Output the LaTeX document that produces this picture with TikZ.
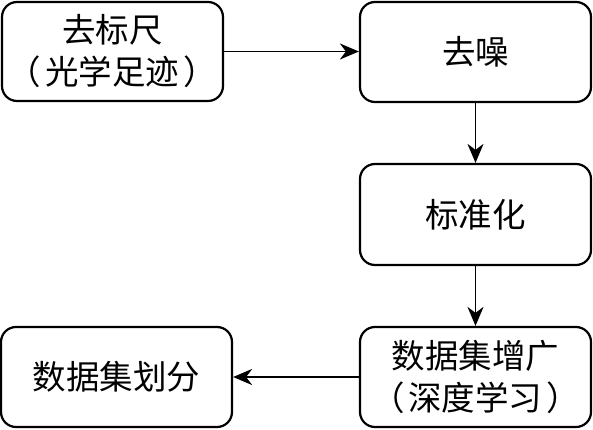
\documentclass[tikz,border=0pt]{standalone}
\usepackage{fontspec}
\setmainfont{Noto Sans CJK SC}
\usetikzlibrary{arrows.meta}
\newcommand{\lp}{（\hspace{4pt}}
\newcommand{\rp}{\hspace{4pt}）}
\tikzset{
  box/.style={draw=black, line width=2.2pt, rounded corners=15pt, inner sep=0pt,
    minimum width=231pt, minimum height=100pt, align=center,
    font=\fontsize{33.5}{42}\selectfont},
  conn/.style={draw=black, line width=1.9pt, -{Stealth[length=19pt,width=16pt,inset=6pt]}}
}
\begin{document}
\begin{tikzpicture}[x=1pt,y=1pt]
\useasboundingbox[fill=white] (0,0) rectangle (593,429);
\node[box, minimum width=221pt, minimum height=99pt] (b1) at (112.5,377.5) {去标尺\\\lp 光学足迹\rp};
\node[box] (b2) at (475.5,377) {去噪};
\node[box, minimum height=101pt] (b3) at (475.5,214.5) {标准化};
\node[box] (b4) at (475.5,52) {数据集增广\\\lp 深度学习\rp};
\node[box] (b5) at (116.5,52) {数据集划分};
\draw[conn] (b1.east) -- (b2.west |- b1.east);
\draw[conn] (b2.south) -- (b3.north);
\draw[conn] (b3.south) -- (b4.north);
\draw[conn] (b4.west) -- (b5.east);
\end{tikzpicture}
\end{document}
